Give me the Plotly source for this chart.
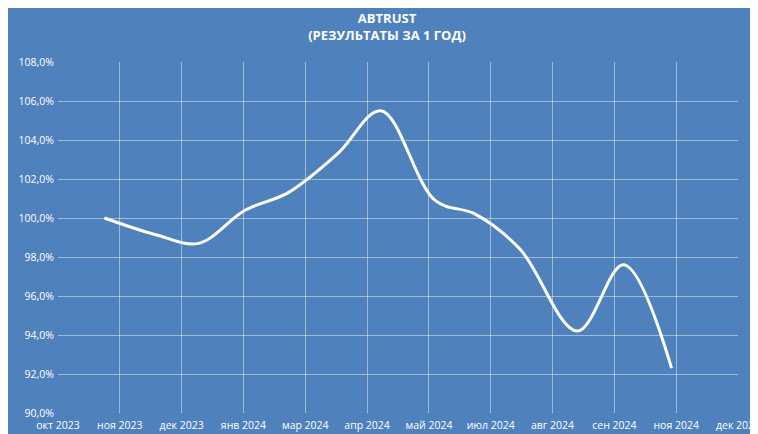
import plotly.graph_objects as go
import datetime as dt

dates = ["2023-10-31","2023-12-05","2023-12-31","2024-01-30","2024-02-27","2024-03-30",
         "2024-04-27","2024-06-01","2024-06-27","2024-07-26","2024-09-01","2024-10-01","2024-11-01"]
values = [100.0, 99.1, 98.7, 100.4, 101.3, 103.3, 105.5, 100.9, 100.2, 98.4, 94.2, 97.6, 92.3]
tick_labels = ["окт 2023","ноя 2023","дек 2023","янв 2024","мар 2024","апр 2024","май 2024",
               "июл 2024","авг 2024","сен 2024","ноя 2024","дек 2024"]
start = dt.date(2023, 10, 1)
tick_vals = [(start + dt.timedelta(days=40*i)).isoformat() for i in range(len(tick_labels))]
y_ticks = [90, 92, 94, 96, 98, 100, 102, 104, 106, 108]

bg = "#4F81BD"
fig = go.Figure(go.Scatter(x=dates, y=values, mode="lines",
                           line=dict(color="white", width=3, shape="spline", smoothing=1.0)))
fig.update_layout(
    width=758, height=434, paper_bgcolor=bg, plot_bgcolor=bg,
    margin=dict(l=50, r=28, t=54, b=29, autoexpand=False), showlegend=False,
    title=dict(text="<b>ABTRUST<br>(РЕЗУЛЬТАТЫ ЗА 1 ГОД)</b>", x=0.5, xanchor="center",
               y=0.965, yanchor="top",
               font=dict(family="Open Sans", size=13, color="white")),
    font=dict(family="Open Sans", size=10.5, color="white"),
)
fig.update_xaxes(range=[tick_vals[0], tick_vals[-1]], tickvals=tick_vals, ticktext=tick_labels,
                 showgrid=True, gridcolor="rgba(255,255,255,0.45)", gridwidth=1, automargin=False,
                 zeroline=False, showline=False, ticks="", tickangle=0, ticklabelstandoff=4)
fig.update_yaxes(range=[90, 108], tickvals=y_ticks, automargin=False,
                 ticktext=[f"{v:.1f}%".replace(".", ",") for v in y_ticks],
                 showgrid=True, gridcolor="rgba(255,255,255,0.45)", gridwidth=1,
                 zeroline=False, ticks="", ticklabelstandoff=3)
fig.write_html("out.html")
